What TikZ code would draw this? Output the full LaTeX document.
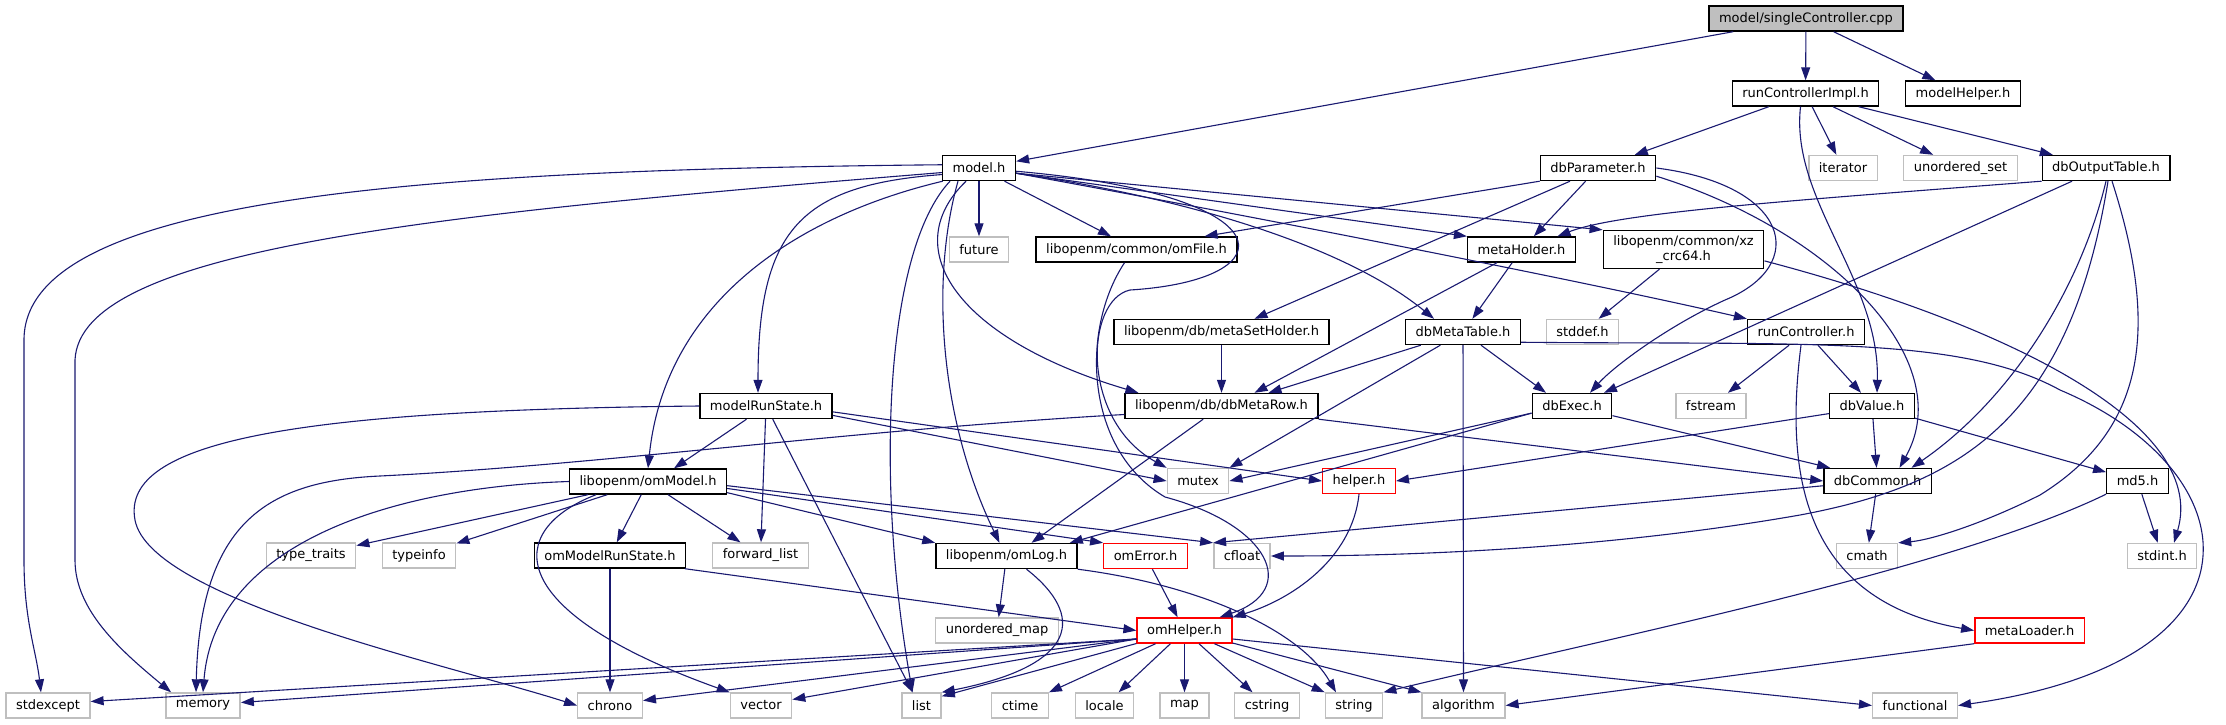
\documentclass[tikz,border=0pt]{standalone}
\usepackage{fontspec}
\setmainfont{DejaVu Sans}
\usetikzlibrary{arrows.meta, positioning}
\definecolor{edgeBlue}{HTML}{191970}
\definecolor{sysGray}{HTML}{BFBFBF}
\definecolor{rootGray}{HTML}{BFBFBF}
\definecolor{errRed}{HTML}{FF0000}
\tikzset{
  edge/.style={-{Triangle[length=13pt,width=9pt]}, draw=edgeBlue, line width=1.1pt},
  filebox/.style={rectangle, draw=black, line width=1.4pt, fill=white,
                  font=\fontsize{13pt}{15pt}\selectfont, inner xsep=10pt,
                  inner ysep=0pt, minimum height=25pt},
  sysbox/.style={filebox, draw=sysGray},
  redbox/.style={filebox, draw=errRed},
  rootbox/.style={filebox, fill=rootGray},
}

\begin{document}
\begin{tikzpicture}[x=1pt, y=-1pt]
    \useasboundingbox (0,0) rectangle (2226,724);
    % top rows
    \node[rootbox] (root) at (1806,18.5) {model/singleController.cpp};
    \node[filebox] (rci) at (1805.5,93.5) {runControllerImpl.h};
    \node[filebox] (mhelper) at (1963,93.5) {modelHelper.h};
    \node[filebox] (model) at (979,168) {model.h};
    \node[filebox] (dbpar) at (1598,168) {dbParameter.h};
    \node[sysbox] (iter) at (1843,168) {iterator};
    \node[sysbox] (uset) at (1960.5,168) {unordered\_set};
    \node[filebox] (dbout) at (2106,168) {dbOutputTable.h};
    \node[sysbox] (future) at (979,249.5) {future};
    \node[filebox] (omfile) at (1136.5,249.5) {libopenm/common/omFile.h};
    \node[filebox] (metah) at (1521.5,249.5) {metaHolder.h};
    \node[filebox, align=center, inner ysep=5pt] (xz) at (1683.5,249.5)
      {libopenm/common/xz\\\_crc64.h};
    \node[filebox] (msh) at (1221.5,332) {libopenm/db/metaSetHolder.h};
    \node[filebox] (dbmt) at (1463,332) {dbMetaTable.h};
    \node[sysbox] (stddef) at (1582.5,332) {stddef.h};
    \node[filebox] (runc) at (1806,332) {runController.h};
    % middle rows
    \node[filebox] (mrs) at (766,406) {modelRunState.h};
    \node[filebox] (dbrow) at (1221.5,406) {libopenm/db/dbMetaRow.h};
    \node[filebox] (dbexec) at (1572,406) {dbExec.h};
    \node[sysbox] (fstream) at (1711,406) {fstream};
    \node[filebox] (dbval) at (1872,406) {dbValue.h};
    \node[filebox] (ommodel) at (648,481.5) {libopenm/omModel.h};
    \node[sysbox] (mutex) at (1198,481) {mutex};
    \node[redbox] (helper) at (1359,481) {helper.h};
    \node[filebox] (dbcom) at (1877.5,481) {dbCommon.h};
    \node[filebox] (md5) at (2137.5,481) {md5.h};
    \node[sysbox] (ttraits) at (311,555.5) {type\_traits};
    \node[sysbox] (tinfo) at (419,555.5) {typeinfo};
    \node[filebox] (omrs) at (610,555.5) {omModelRunState.h};
    \node[sysbox] (fwlist) at (760.5,555.5) {forward\_list};
    \node[filebox] (omlog) at (1006.5,556) {libopenm/omLog.h};
    \node[redbox] (omerr) at (1145.5,556) {omError.h};
    \node[sysbox] (cfloat) at (1242,556) {cfloat};
    \node[sysbox] (cmath) at (1867,556) {cmath};
    \node[sysbox] (stdint) at (2162,556) {stdint.h};
    \node[sysbox] (umap) at (997,630.5) {unordered\_map};
    \node[redbox] (omhelp) at (1184.5,630.5) {omHelper.h};
    \node[redbox] (metaload) at (2029.5,630.5) {metaLoader.h};
    % system headers, bottom row
    \foreach \n/\x in {stdexcept/48, memory/203, chrono/610, vector/761, list/921.5,
      ctime/1020, locale/1104.5, map/1184.5, cstring/1267, string/1354,
      algorithm/1463.5, functional/1915} {
      \node[sysbox] (\n) at (\x,705.5) {\n};
    }

    % singleController.cpp
    \foreach \t in {model, rci, mhelper} { \draw[edge] (root) -- (\t); }
    % runControllerImpl.h
    \foreach \t in {dbpar, iter, uset, dbout} { \draw[edge] (rci) -- (\t); }
    \draw[edge] ([xshift=-5pt]rci.south) .. controls (1790,200) and (1880,280) .. ([xshift=5pt]dbval.north);
    % model.h
    \foreach \t in {future, omfile} { \draw[edge] (model) -- (\t); }
    \draw[edge] (model.-8) -- (xz.north west);
    \draw[edge] (model.-8) -- (metah.north west);
    \draw[edge] (model.-8) .. controls (1300,225) and (1600,285) .. (runc.north west);
    \draw[edge] (model.-8) .. controls (1200,200) and (1350,250) .. ([xshift=-29pt]dbmt.north);
    \draw[edge] (model.-5) .. controls (1290,195) and (1290,280) .. (1130,290)
      .. controls (1085,300) and (1080,420) .. (mutex.north west);
    \draw[edge] (model.175) .. controls (400,170) and (24,200) .. (24,340) -- (24,560)
      .. controls (24,620) and (36,650) .. ([xshift=-7pt]stdexcept.north);
    \draw[edge] (model.187) .. controls (420,215) and (80,250) .. (75,360) -- (75,560)
      .. controls (75,610) and (120,650) .. ([xshift=6pt]memory.north west);
    \draw[edge] (model.190) .. controls (800,185) and (758,230) .. ([xshift=-8pt]mrs.north);
    \draw[edge] (model.200) .. controls (800,215) and (665,300) .. (ommodel.north);
    \draw[edge] ([xshift=-29pt]model.south) .. controls (885,250) and (875,480) .. ([xshift=-9pt]list.north);
    \draw[edge] ([xshift=-21pt]model.south) .. controls (930,280) and (940,420) .. ([xshift=-7pt]omlog.north);
    \draw[edge] ([xshift=-13pt]model.south) .. controls (895,250) and (960,340) .. ([xshift=14pt]dbrow.north west);
    % dbParameter.h
    \draw[edge] (dbpar.south west) -- ([xshift=-33pt]omfile.north east);
    \draw[edge] ([xshift=-28pt]dbpar.south) -- ([xshift=33pt]msh.north);
    \draw[edge] (dbpar) -- (metah);
    \draw[edge] (dbpar.east) .. controls (1790,185) and (1810,265) .. (1725,300)
      .. controls (1670,325) and (1615,365) .. ([xshift=18pt]dbexec.north);
    \draw[edge] (dbpar.-8) .. controls (1830,230) and (1960,360) .. ([xshift=22pt]dbcom.north);
    % dbOutputTable.h
    \draw[edge] (dbout.south west) .. controls (1800,200) and (1620,212) .. ([xshift=36pt]metah.north);
    \draw[edge] ([xshift=-34pt]dbout.south) -- ([xshift=32pt]dbexec.north);
    \draw[edge] (dbout.south) .. controls (2080,290) and (2010,400) .. ([xshift=34pt]dbcom.north);
    \draw[edge] ([xshift=2pt]dbout.south) .. controls (2070,420) and (1960,485) .. (1800,515)
      .. controls (1600,550) and (1400,556) .. (cfloat.east);
    \draw[edge] ([xshift=6pt]dbout.south) .. controls (2160,330) and (2145,430) .. (2040,495)
      .. controls (1980,525) and (1930,540) .. (cmath.north east);
    % metaHolder.h, xz_crc64.h, metaSetHolder.h
    \draw[edge] (metah) -- (dbmt);
    \draw[edge] (metah) -- ([xshift=33pt]dbrow.north);
    \draw[edge] (xz) -- (stddef);
    \draw[edge] (xz.-8) .. controls (1990,320) and (2210,420) .. ([xshift=12pt]stdint.north);
    \draw[edge] (msh) -- (dbrow);
    % dbMetaTable.h
    \draw[edge] (dbmt) -- ([xshift=47pt]dbrow.north);
    \draw[edge] (dbmt) -- (mutex.north east);
    \draw[edge] (dbmt) -- (algorithm);
    \draw[edge] (dbmt) -- ([xshift=-26pt]dbexec.north);
    \draw[edge] (dbmt.-10) .. controls (1800,345) and (1960,335) .. (2060,390)
      .. controls (2250,470) and (2280,660) .. (functional.east);
    % runController.h
    \draw[edge] (runc) -- (fstream);
    \draw[edge] (runc) -- ([xshift=-11pt]dbval.north);
    \draw[edge] ([xshift=-5pt]runc.south) .. controls (1785,470) and (1800,600) .. (metaload.west);
    % modelRunState.h
    \draw[edge] (mrs.west) .. controls (300,410) and (120,440) .. (135,520)
      .. controls (150,600) and (450,665) .. (chrono.west);
    \draw[edge] (mrs) -- ([xshift=26pt]ommodel.north);
    \draw[edge] (mrs) -- (fwlist);
    \draw[edge] (mrs) -- ([xshift=-9pt]list.north);
    \draw[edge] (mrs.-8) -- (mutex.west);
    \draw[edge] (mrs.-5) -- (helper.west);
    % dbMetaRow.h
    \draw[edge] (dbrow.185) .. controls (850,430) and (600,465) .. (380,476)
      .. controls (270,481) and (200,520) .. ([xshift=-7pt]memory.north);
    \draw[edge] (dbrow) -- ([xshift=25pt]omlog.north);
    \draw[edge] (dbrow.south east) -- (dbcom.west);
    % dbExec.h, dbValue.h
    \draw[edge] (dbexec.190) -- (mutex.east);
    \draw[edge] (dbexec.190) -- ([xshift=-8pt]omlog.north east);
    \draw[edge] (dbexec) -- ([xshift=7pt]dbcom.north west);
    \draw[edge] (dbval.190) -- (helper.east);
    \draw[edge] (dbval) -- (dbcom);
    \draw[edge] (dbval) -- (md5);
    % libopenm/omModel.h
    \draw[edge] (ommodel.west) .. controls (400,487) and (215,540) .. (memory.north);
    \foreach \t in {ttraits, tinfo, omrs, fwlist} { \draw[edge] (ommodel) -- (\t); }
    \draw[edge] ([xshift=-52pt]ommodel.south) .. controls (505,530) and (500,610) .. (vector.north west);
    \draw[edge] (ommodel.-8) -- (omlog.north west);
    \draw[edge] (ommodel.-5) -- (omerr.north west);
    \draw[edge] (ommodel.-3) -- (cfloat.north west);
    % dbCommon.h, md5.h
    \draw[edge] (dbcom.185) -- (cfloat.north west);
    \draw[edge] (dbcom) -- (cmath);
    \draw[edge] (md5) -- (stdint);
    \draw[edge] (md5.south west) .. controls (1950,570) and (1600,640) .. (string.north east);
    % lower headers
    \draw[edge] (omrs) -- (chrono);
    \draw[edge] (omrs.-10) -- (omhelp.west);
    \draw[edge] (omlog) -- (umap);
    \draw[edge] ([xshift=20pt]omlog.south) .. controls (1085,615) and (1080,665) .. (list.north east);
    \draw[edge] (omlog.south east) .. controls (1200,585) and (1300,630) .. ([xshift=-18pt]string.north);
    \draw[edge] (omerr) -- (omhelp);
    \draw[edge] (helper.south) .. controls (1352,560) and (1290,600) .. (omhelp.north east);
    \draw[edge] ([xshift=-12pt]omfile.south) .. controls (1080,330) and (1085,450) .. (1165,497)
      .. controls (1270,525) and (1300,590) .. ([xshift=-13pt]omhelp.north east);
    \draw[edge] (metaload.south west) -- (algorithm.east);
    % omHelper.h
    \draw[edge] (omhelp.190) -- ([yshift=4pt]stdexcept.east);
    \draw[edge] (omhelp.190) -- ([yshift=3pt]memory.east);
    \draw[edge] (omhelp.190) -- ([yshift=5pt]chrono.east);
    \draw[edge] (omhelp.190) -- ([yshift=6pt]vector.east);
    \draw[edge] (omhelp) -- ([yshift=-4pt]list.north east);
    \foreach \t in {ctime, locale, map, cstring} { \draw[edge] (omhelp) -- (\t); }
    \draw[edge] (omhelp) -- (string.north west);
    \draw[edge] (omhelp) -- (algorithm.north west);
    \draw[edge] (omhelp.-10) -- (functional.west);
\end{tikzpicture}
\end{document}
